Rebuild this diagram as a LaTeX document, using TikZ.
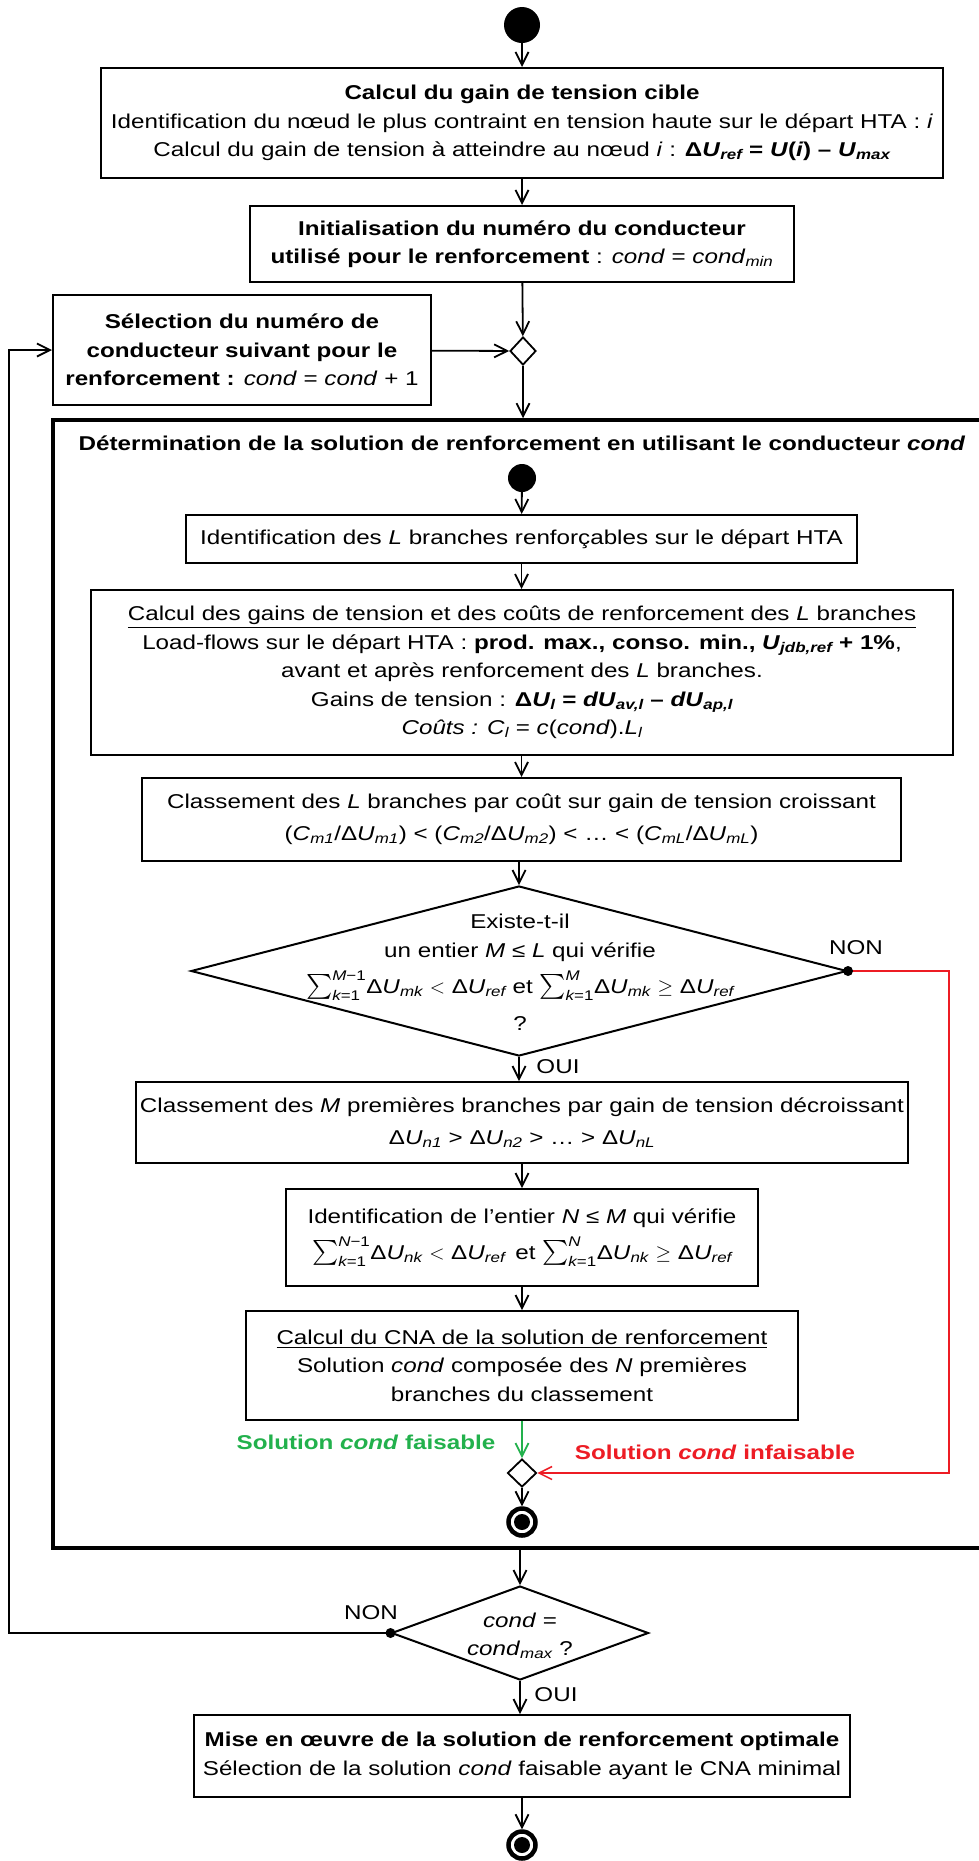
\RequirePackage{fix-cm}
\documentclass[tikz,border=0pt]{standalone}
\usepackage{amsmath}
\usepackage{fontspec}
\setmainfont{Liberation Sans}[FakeStretch=1.21]
\usetikzlibrary{arrows.meta,shapes.geometric}
\newcommand{\sbs}[1]{\textsubscript{\itshape #1}}
\newcommand{\ksum}[2]{$\mathop{\text{\fontsize{25}{25}\selectfont$\textstyle\sum$}}\nolimits_{\text{\itshape k}\text{=1}}^{\text{\itshape #1}\text{#2}}$}
\definecolor{okgreen}{RGB}{34,177,76}
\definecolor{kored}{RGB}{237,28,36}
\tikzset{
  box/.style={draw, line width=2pt, align=center, inner sep=0pt},
  merge/.style={diamond, draw, line width=1.8pt, inner sep=0pt},
  arr/.style={line width=1.8pt, -{Straight Barb[length=13pt,width=13pt]}},
  startdot/.style={circle, fill=black, inner sep=0pt},
  enddot/.style={circle, draw=black, line width=4.5pt, inner sep=0pt, minimum size=27pt,
    path picture={\fill[black] (path picture bounding box.center) circle (8pt);}},
  lbl/.style={inner sep=0pt}
}
\begin{document}
\begin{tikzpicture}[x=1pt,y=-1pt,font=\fontsize{20}{28.5}\selectfont]
\useasboundingbox[fill=white] (0,0) rectangle (979,1861);

% frame
\node[draw, line width=3.5pt, minimum width=952pt, minimum height=1128pt, inner sep=0pt] (frame) at (529,984) {};
\node[lbl, font=\fontsize{20}{28.5}\selectfont\bfseries] (ftitle) at (522,443) {Détermination de la solution de renforcement en utilisant le conducteur \textit{cond}};

% nodes
\node[startdot, minimum size=36pt] (start) at (522,25) {};
\node[box, minimum width=842pt, minimum height=110pt] (b1) at (522,123) {\textbf{Calcul du gain de tension cible}\\
Identification du nœud le plus contraint en tension haute sur le départ HTA : \textit{i}\\
Calcul du gain de tension à atteindre au nœud \textit{i} : \textbf{Δ\textit{U}\sbs{ref} = \textit{U}(\textit{i}) – \textit{U}\sbs{max}}};
\node[box, minimum width=544pt, minimum height=76pt] (b2) at (522,244) {\textbf{Initialisation du numéro du conducteur}\\
\textbf{utilisé pour le renforcement} : \textit{cond} = \textit{cond}\sbs{min}};
\node[merge, minimum width=26pt, minimum height=28pt] (m1) at (523,351) {};
\node[box, minimum width=378pt, minimum height=110pt] (b3) at (242,350) {\textbf{Sélection du numéro de}\\
\textbf{conducteur suivant pour le}\\
\textbf{renforcement :} \textit{cond} = \textit{cond} + 1};

\node[startdot, minimum size=28pt] (s2) at (522,478) {};
\node[box, minimum width=671pt, minimum height=48pt] (b4) at (521.5,539) {Identification des \textit{L} branches renforçables sur le départ HTA};
\node[box, minimum width=862pt, minimum height=165pt] (b5) at (522,672.5) {\underline{Calcul des gains de tension et des coûts de renforcement des \textit{L} branches}\\
Load-flows sur le départ HTA : \textbf{prod. max., conso. min., \textit{U}\sbs{jdb,ref} + 1\%},\\
avant et après renforcement des \textit{L} branches.\\
Gains de tension : \textbf{Δ\textit{U}\sbs{l} = \textit{dU}\sbs{av,l} – \textit{dU}\sbs{ap,l}}\\
\textit{Coûts :} \textit{C}\sbs{l} = \textit{c}(\textit{cond}).\textit{L}\sbs{l}};
\node[box, minimum width=759pt, minimum height=83pt] (b6) at (521.5,819.5) {Classement des \textit{L} branches par coût sur gain de tension croissant\\[4pt]
(\textit{C}\sbs{m1}/Δ\textit{U}\sbs{m1}) < (\textit{C}\sbs{m2}/Δ\textit{U}\sbs{m2}) < … < (\textit{C}\sbs{mL}/Δ\textit{U}\sbs{mL})};
\node[diamond, draw, line width=2pt, inner sep=0pt, minimum width=656pt, minimum height=170pt] (d2) at (519,971) {};
\node[lbl, align=center] (d2t) at (520,972) {Existe-t-il\\
un entier \textit{M} ≤ \textit{L} qui vérifie\\[8pt]
\ksum{M}{−1}Δ\textit{U}\sbs{mk} $<$ Δ\textit{U}\sbs{ref} et \ksum{M}{}Δ\textit{U}\sbs{mk} $\geq$ Δ\textit{U}\sbs{ref}\\[8pt]
?};
\node[lbl] (non1) at (856,948) {NON};
\node[lbl] (oui1) at (558,1067) {OUI};
\node[box, minimum width=772pt, minimum height=81pt] (b7) at (522,1122.5) {Classement des \textit{M} premières branches par gain de tension décroissant\\[4pt]
Δ\textit{U}\sbs{n1} > Δ\textit{U}\sbs{n2} > … > Δ\textit{U}\sbs{nL}};
\node[box, minimum width=472pt, minimum height=97pt] (b8) at (522,1237.5) {Identification de l’entier \textit{N} ≤ \textit{M} qui vérifie\\[8pt]
\ksum{N}{−1}Δ\textit{U}\sbs{nk} $<$ Δ\textit{U}\sbs{ref} \,et \ksum{N}{}Δ\textit{U}\sbs{nk} $\geq$ Δ\textit{U}\sbs{ref}};
\node[box, minimum width=552pt, minimum height=109pt] (b9) at (522,1365.5) {\underline{Calcul du CNA de la solution de renforcement}\\
Solution \textit{cond} composée des \textit{N} premières\\
branches du classement};
\node[lbl, text=okgreen, font=\fontsize{20}{28.5}\selectfont\bfseries] (gl) at (366,1442) {Solution \textit{cond} faisable};
\node[lbl, text=kored, font=\fontsize{20}{28.5}\selectfont\bfseries] (rl) at (715,1452) {Solution \textit{cond} infaisable};
\node[merge, minimum width=29pt, minimum height=28pt] (m2) at (522,1473) {};
\node[enddot] (e1) at (522,1522) {};

\node[diamond, draw, line width=2pt, inner sep=0pt, minimum width=257pt, minimum height=94pt] (d4) at (520,1633) {};
\node[lbl, align=center] (d4t) at (520,1636) {\textit{cond} =\\ \textit{cond}\sbs{max} ?};
\node[lbl] (non2) at (371,1613) {NON};
\node[lbl] (oui2) at (556,1695) {OUI};
\node[box, minimum width=656pt, minimum height=82pt] (b10) at (522,1756) {\textbf{Mise en œuvre de la solution de renforcement optimale}\\
Sélection de la solution \textit{cond} faisable ayant le CNA minimal};
\node[enddot] (e2) at (522,1845) {};
\coordinate (fb) at (9,1633);
\coordinate (rc) at (949,971);

% connectors
\draw[arr] (start) -- (b1);
\draw[arr] (b1) -- (b2);
\draw[arr] (b2) -- (m1);
\draw[arr] (b3) -- (m1);
\draw[arr] (m1) -- (m1 |- frame.north);
\draw[arr] (s2) -- (b4);
\draw[arr] (b4) -- (b5.north -| b4);
\draw[arr] (b5.south -| b4) -- (b6.north -| b4);
\draw[arr] (b6.south -| d2) -- (d2.north);
\draw[arr] (d2.south) -- (b7.north -| d2);
\draw[arr] (b7) -- (b8);
\draw[arr] (b8) -- (b9);
\draw[arr, draw=okgreen] (b9) -- (m2);
\draw[arr] (m2) -- (e1);
\draw[arr, draw=kored, line width=1.5pt] (d2.east) -- (rc) |- (m2.east);
\fill (d2.east) circle (5pt);
\draw[arr] (frame.south -| d4) -- (d4.north);
\draw[arr] (d4.south) -- (b10.north -| d4);
\draw[arr] (b10) -- (e2);
\draw[arr] (d4.west) -- (fb) |- (b3.west);
\fill (d4.west) circle (5pt);
\end{tikzpicture}
\end{document}
